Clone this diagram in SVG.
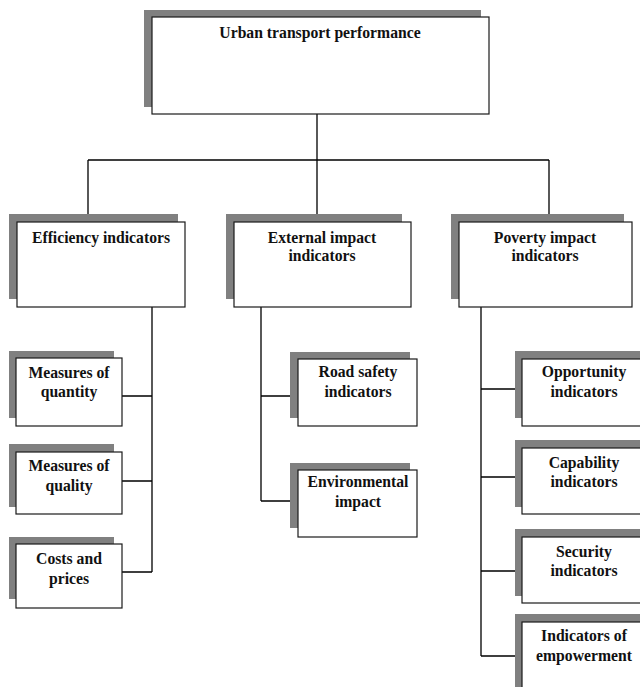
<svg xmlns="http://www.w3.org/2000/svg" width="640" height="687" viewBox="0 0 640 687">
<style>
.sh{fill:#808080;stroke:none}
.bx{fill:#fff;stroke:#1a1a1a;stroke-width:1.2}
.t{font-family:"Liberation Serif","Times New Roman",serif;font-weight:bold;font-size:15.7px;fill:#111;text-anchor:middle}
.c{fill:none;stroke:#000;stroke-width:1.3}
</style>
<rect width="640" height="687" fill="#fff"/>
<g id="connectors">
<path class="c" d="M317 114V160M88 160H549M88 160V222M317 160V222M549 160V222"/>
<path class="c" d="M152 307V572M122 396H152M122 481H152M122 572H152"/>
<path class="c" d="M261 307V501M261 396H298M261 501H298"/>
<path class="c" d="M481 307V656M481 389H522M481 477H522M481 571H522M481 656H522"/>
</g>
<g id="urban">
<rect class="sh" x="144" y="10" width="337" height="97"/>
<rect class="bx" x="152" y="17" width="337" height="97"/>
<text class="t" x="320" y="38">Urban transport performance</text>
</g>
<g id="efficiency">
<rect class="sh" x="9" y="214" width="169" height="85"/>
<rect class="bx" x="17" y="222" width="168" height="85"/>
<text class="t" x="101" y="243">Efficiency indicators</text>
</g>
<g id="external">
<rect class="sh" x="226" y="214" width="176" height="85"/>
<rect class="bx" x="234" y="222" width="177" height="85"/>
<text class="t" x="322" y="243">External impact</text>
<text class="t" x="322" y="261">indicators</text>
</g>
<g id="poverty">
<rect class="sh" x="451" y="214" width="173" height="85"/>
<rect class="bx" x="459" y="222" width="173" height="85"/>
<text class="t" x="545" y="243">Poverty impact</text>
<text class="t" x="545" y="261">indicators</text>
</g>
<g id="quantity">
<rect class="sh" x="9" y="351" width="105" height="67"/>
<rect class="bx" x="16" y="358" width="106" height="68"/>
<text class="t" x="69" y="378">Measures of</text>
<text class="t" x="69" y="397">quantity</text>
</g>
<g id="quality">
<rect class="sh" x="9" y="444" width="105" height="63"/>
<rect class="bx" x="16" y="452" width="106" height="62"/>
<text class="t" x="69" y="471">Measures of</text>
<text class="t" x="69" y="491">quality</text>
</g>
<g id="costs">
<rect class="sh" x="9" y="537" width="105" height="62"/>
<rect class="bx" x="16" y="544" width="106" height="64"/>
<text class="t" x="69" y="564">Costs and</text>
<text class="t" x="69" y="584">prices</text>
</g>
<g id="roadsafety">
<rect class="sh" x="290" y="352" width="120" height="66"/>
<rect class="bx" x="298" y="359" width="119" height="67"/>
<text class="t" x="358" y="377">Road safety</text>
<text class="t" x="358" y="397">indicators</text>
</g>
<g id="environmental">
<rect class="sh" x="290" y="463" width="120" height="65"/>
<rect class="bx" x="298" y="470" width="119" height="67"/>
<text class="t" x="358" y="487">Environmental</text>
<text class="t" x="358" y="507">impact</text>
</g>
<g id="opportunity">
<rect class="sh" x="515" y="351" width="130" height="67"/>
<rect class="bx" x="522" y="359" width="124" height="67"/>
<text class="t" x="584" y="377">Opportunity</text>
<text class="t" x="584" y="397">indicators</text>
</g>
<g id="capability">
<rect class="sh" x="515" y="440" width="130" height="67"/>
<rect class="bx" x="522" y="448" width="124" height="66"/>
<text class="t" x="584" y="468">Capability</text>
<text class="t" x="584" y="487">indicators</text>
</g>
<g id="security">
<rect class="sh" x="515" y="529" width="130" height="67"/>
<rect class="bx" x="522" y="537" width="124" height="66"/>
<text class="t" x="584" y="557">Security</text>
<text class="t" x="584" y="576">indicators</text>
</g>
<g id="empowerment">
<rect class="sh" x="515" y="614" width="130" height="80"/>
<rect class="bx" x="522" y="622" width="124" height="72"/>
<text class="t" x="584" y="641">Indicators of</text>
<text class="t" x="584" y="661">empowerment</text>
</g>
</svg>
